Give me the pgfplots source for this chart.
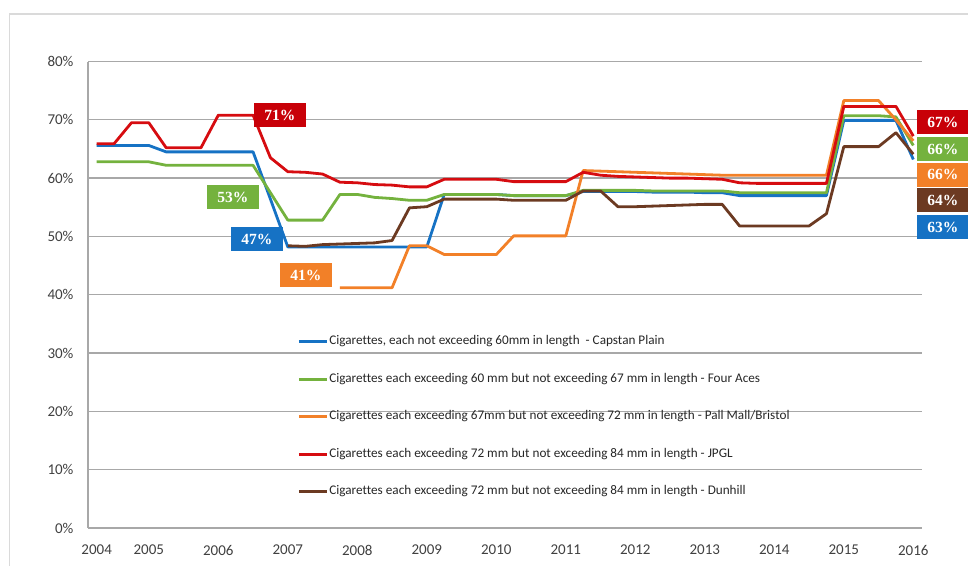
\documentclass[border=0pt]{standalone}
\usepackage{fontspec}
\setmainfont{Carlito}[Ligatures=NoCommon]
\newfontfamily\lblfont{Liberation Serif}
\usepackage{pgfplots}
\usepackage{pgfplotstable}
\pgfplotsset{compat=1.18}

\definecolor{cBlue}{RGB}{22,114,196}
\definecolor{cGreen}{RGB}{116,178,62}
\definecolor{cOrange}{RGB}{242,128,40}
\definecolor{cRed}{RGB}{214,12,16}
\definecolor{cRedBox}{RGB}{200,0,8}
\definecolor{cBrown}{RGB}{108,58,34}
\definecolor{gridgray}{RGB}{168,168,168}
\definecolor{framegray}{RGB}{218,218,218}
\definecolor{ticktext}{RGB}{64,64,64}

% Quarterly tax share of retail price, per cigarette class
\pgfplotstableread{
x y
2004.25 65.6
2004.50 65.6
2004.75 65.6
2005.00 65.6
2005.25 64.5
2005.50 64.5
2005.75 64.5
2006.00 64.5
2006.25 64.5
2006.50 64.5
2006.75 56.4
2007.00 48.2
2007.25 48.2
2007.50 48.2
2007.75 48.2
2008.00 48.2
2008.25 48.2
2008.50 48.2
2008.75 48.2
2009.00 48.2
2009.25 57.2
2009.50 57.2
2009.75 57.2
2010.00 57.2
2010.25 57.0
2010.50 57.0
2010.75 57.0
2011.00 57.0
2011.25 57.7
2011.50 57.7
2011.75 57.7
2012.00 57.7
2012.25 57.6
2012.50 57.6
2012.75 57.6
2013.00 57.5
2013.25 57.5
2013.50 57.0
2013.75 57.0
2014.00 57.0
2014.25 57.0
2014.50 57.0
2014.75 57.0
2015.00 69.9
2015.25 69.9
2015.50 69.9
2015.75 69.9
2016.00 63.2
}\capstan

\pgfplotstableread{
x y
2004.25 62.8
2004.50 62.8
2004.75 62.8
2005.00 62.8
2005.25 62.2
2005.50 62.2
2005.75 62.2
2006.00 62.2
2006.25 62.2
2006.50 62.2
2006.75 57.5
2007.00 52.8
2007.25 52.8
2007.50 52.8
2007.75 57.2
2008.00 57.2
2008.25 56.7
2008.50 56.5
2008.75 56.2
2009.00 56.2
2009.25 57.2
2009.50 57.2
2009.75 57.2
2010.00 57.2
2010.25 57.0
2010.50 57.0
2010.75 57.0
2011.00 57.0
2011.25 57.9
2011.50 57.9
2011.75 57.9
2012.00 57.9
2012.25 57.8
2012.50 57.8
2012.75 57.8
2013.00 57.8
2013.25 57.8
2013.50 57.5
2013.75 57.5
2014.00 57.5
2014.25 57.5
2014.50 57.5
2014.75 57.5
2015.00 70.7
2015.25 70.7
2015.50 70.7
2015.75 70.5
2016.00 65.6
}\fouraces

\pgfplotstableread{
x y
2007.75 41.2
2008.00 41.2
2008.25 41.2
2008.50 41.2
2008.75 48.4
2009.00 48.4
2009.25 46.9
2009.50 46.9
2009.75 46.9
2010.00 46.9
2010.25 50.1
2010.50 50.1
2010.75 50.1
2011.00 50.1
2011.25 61.3
2011.50 61.2
2011.75 61.1
2012.00 61.0
2012.25 60.9
2012.50 60.8
2012.75 60.7
2013.00 60.6
2013.25 60.5
2013.50 60.5
2013.75 60.5
2014.00 60.5
2014.25 60.5
2014.50 60.5
2014.75 60.5
2015.00 73.3
2015.25 73.3
2015.50 73.3
2015.75 70.0
2016.00 66.4
}\pallmall

\pgfplotstableread{
x y
2004.25 65.9
2004.50 65.9
2004.75 69.5
2005.00 69.5
2005.25 65.2
2005.50 65.2
2005.75 65.2
2006.00 70.8
2006.25 70.8
2006.50 70.8
2006.75 63.5
2007.00 61.1
2007.25 61.0
2007.50 60.7
2007.75 59.3
2008.00 59.2
2008.25 58.9
2008.50 58.8
2008.75 58.5
2009.00 58.5
2009.25 59.8
2009.50 59.8
2009.75 59.8
2010.00 59.8
2010.25 59.4
2010.50 59.4
2010.75 59.4
2011.00 59.4
2011.25 61.0
2011.50 60.5
2011.75 60.3
2012.00 60.2
2012.25 60.1
2012.50 60.0
2012.75 60.0
2013.00 59.9
2013.25 59.8
2013.50 59.2
2013.75 59.1
2014.00 59.1
2014.25 59.1
2014.50 59.1
2014.75 59.1
2015.00 72.3
2015.25 72.3
2015.50 72.3
2015.75 72.3
2016.00 67.2
}\jpgl

\pgfplotstableread{
x y
2007.00 48.4
2007.25 48.3
2007.50 48.6
2007.75 48.7
2008.00 48.8
2008.25 48.9
2008.50 49.3
2008.75 54.9
2009.00 55.1
2009.25 56.4
2009.50 56.4
2009.75 56.4
2010.00 56.4
2010.25 56.2
2010.50 56.2
2010.75 56.2
2011.00 56.2
2011.25 57.8
2011.50 57.8
2011.75 55.1
2012.00 55.1
2012.25 55.2
2012.50 55.3
2012.75 55.4
2013.00 55.5
2013.25 55.5
2013.50 51.8
2013.75 51.8
2014.00 51.8
2014.25 51.8
2014.50 51.8
2014.75 53.9
2015.00 65.4
2015.25 65.4
2015.50 65.4
2015.75 67.8
2016.00 64.1
}\dunhill

\begin{document}
\begin{tikzpicture}[
  lbl/.style={text=white, font=\lblfont\bfseries\fontsize{15.5}{17}\selectfont,
              minimum width=52pt, minimum height=24pt, inner sep=0pt}]
\path[use as bounding box] (0,0) rectangle (968pt,565pt);
\draw[framegray, line width=1.2pt] (9.5pt,-5pt) -- (9.5pt,551pt) -- (975pt,551pt);
\begin{axis}[
  at={(88pt,37pt)}, anchor=south west,
  scale only axis, width=834pt, height=466.5pt,
  xmin=2004.125, xmax=2016.125, ymin=0, ymax=80,
  axis lines*=left,
  axis line style={gridgray, line width=1.6pt},
  major tick length=0pt,
  ymajorgrids, grid style={gridgray, line width=1.3pt},
  xtick={2004.25,2005,2006,2007,2008,2009,2010,2011,2012,2013,2014,2015,2016},
  xticklabels={2004,2005,2006,2007,2008,2009,2010,2011,2012,2013,2014,2015,2016},
  ytick={0,10,20,30,40,50,60,70,80},
  yticklabel={\pgfmathprintnumber{\tick}\%},
  /pgf/number format/assume math mode=true,
  tick label style={font=\fontsize{15}{18}\selectfont, text=ticktext},
  xticklabel style={anchor=center, yshift=-22pt},
  yticklabel style={anchor=east, xshift=-11pt},
  clip=false,
  legend cell align=left,
  legend image code/.code={\draw[#1] (0pt,0pt) -- (28pt,0pt);},
  legend style={at={(0.251,0.4144)}, anchor=north west, draw=none, fill=none,
    inner sep=0pt, row sep=23.5pt, text=black!85,
    font=\fontsize{13.2}{15}\selectfont,
    nodes={inner sep=1pt, text height=9pt, text depth=3pt}},
  every axis plot/.append style={line width=2.8pt, line join=round, no marks},
]
\addplot[cBlue] table {\capstan};
\addlegendentry{Cigarettes, each not exceeding 60mm in length\ \ - Capstan Plain}
\addplot[cGreen] table {\fouraces};
\addlegendentry{Cigarettes each exceeding 60 mm but not exceeding 67 mm in length - Four Aces}
\addplot[cOrange] table {\pallmall};
\addlegendentry{Cigarettes each exceeding 67mm but not exceeding 72 mm in length - Pall Mall/Bristol}
\addplot[cRed] table {\jpgl};
\addlegendentry{Cigarettes each exceeding 72 mm but not exceeding 84 mm in length - JPGL}
\addplot[cBrown] table {\dunhill};
\addlegendentry{Cigarettes each exceeding 72 mm but not exceeding 84 mm in length - Dunhill}

% value tags
\node[lbl, fill=cRedBox] at (axis cs:2006.885,70.83) {71\%};
\node[lbl, fill=cGreen]  at (axis cs:2006.209,56.77) {53\%};
\node[lbl, fill=cBlue]   at (axis cs:2006.554,49.56) {47\%};
\node[lbl, fill=cOrange] at (axis cs:2007.259,43.39) {41\%};
\node[lbl, fill=cRedBox] at (axis cs:2016.424,69.63) {67\%};
\node[lbl, fill=cGreen]  at (axis cs:2016.424,65.00) {66\%};
\node[lbl, fill=cOrange] at (axis cs:2016.424,60.62) {66\%};
\node[lbl, fill=cBrown]  at (axis cs:2016.424,56.25) {64\%};
\node[lbl, fill=cBlue]   at (axis cs:2016.424,51.62) {63\%};
\end{axis}
\end{tikzpicture}
\end{document}
